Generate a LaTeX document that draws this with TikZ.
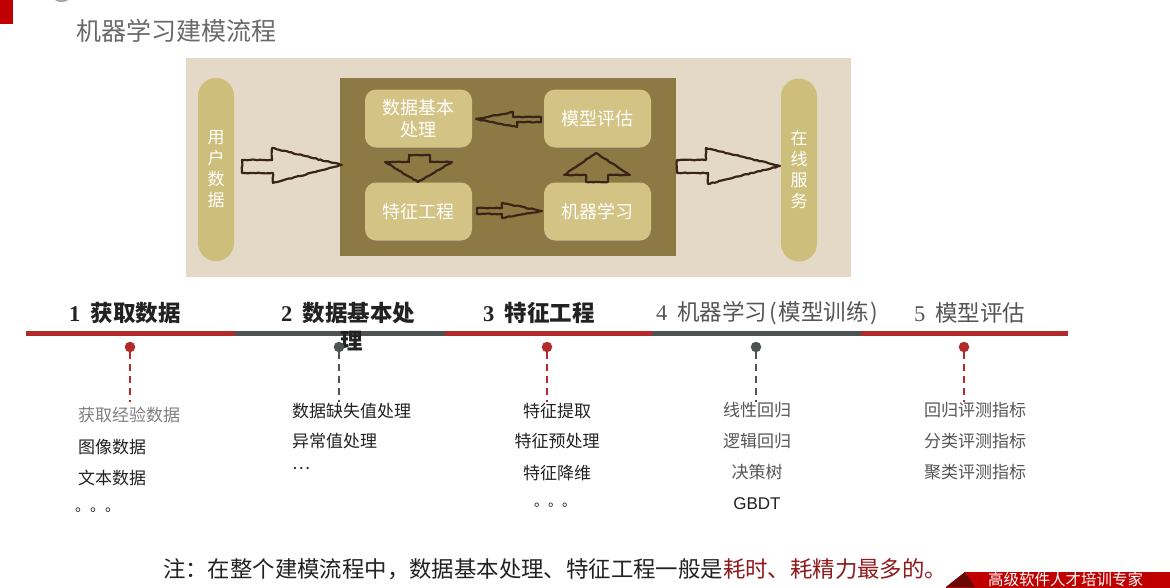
\documentclass[tikz,border=0pt]{standalone}
\usepackage{fontspec}
\setmainfont{Noto Sans CJK SC}
\newfontfamily\serifnum{Liberation Serif}
\newfontfamily\latinsans{Liberation Sans}
\usetikzlibrary{decorations.pathmorphing,shadows}
\definecolor{tlred}{HTML}{B22A2A}
\definecolor{tlgray}{HTML}{4D5352}
\definecolor{paper}{HTML}{E4D9C6}
\definecolor{olive}{HTML}{8D7944}
\definecolor{boxy}{HTML}{D3C384}
\definecolor{pill}{HTML}{CDBE7B}
\definecolor{ink}{HTML}{3A2418}
\definecolor{banner}{HTML}{C00000}
\definecolor{bannerdk}{HTML}{6A0808}
\definecolor{notered}{HTML}{8E1B1B}
\definecolor{titlegray}{HTML}{6A6A6A}
\definecolor{txt}{HTML}{222222}
\definecolor{txtgray}{HTML}{555555}
\begin{document}
\begin{tikzpicture}[x=1pt,y=-1pt,
  every node/.style={inner sep=0pt,outer sep=0pt},
  stagebox/.style={rounded corners=11pt,fill=boxy,minimum width=107pt,minimum height=58pt,
    text=white,font=\fontsize{18}{22}\selectfont,align=center,
    drop shadow={shadow xshift=0pt,shadow yshift=-2pt,opacity=0.25}},
  pillbox/.style={rounded corners=18pt,fill=pill,minimum width=36pt,minimum height=183pt,
    text=white,font=\fontsize{17}{21}\selectfont,align=center},
  handarrow/.style={draw=ink,line width=2.2pt,line join=round,
    decorate,decoration={random steps,segment length=2.5pt,amplitude=0.45pt}},
  header/.style={font=\fontsize{22.5}{26}\selectfont,text=txt},
  item/.style={font=\fontsize{17}{20}\selectfont,text=txt},
  itemgray/.style={font=\fontsize{17}{20}\selectfont,text=txtgray},
  reddot/.style={circle,fill=tlred,minimum size=10.5pt},
  graydot/.style={circle,fill=tlgray,minimum size=10.5pt},
  reddash/.style={draw=tlred,line width=2pt,dash pattern=on 7pt off 5pt},
  graydash/.style={draw=tlgray,line width=2pt,dash pattern=on 7pt off 5pt}
]
\pgfmathsetseed{7}
\useasboundingbox (0,0) rectangle (1170,587);
\fill[white] (0,0) rectangle (1170,587);

% corner decorations
\fill[banner] (0,0) rectangle (13,24);
\begin{scope}
\clip (0,0) rectangle (1170,587);
\fill[gray!70] (61.5,-2) ellipse (7.5 and 4);
\end{scope}

% title
\node[anchor=west,text=titlegray,font=\fontsize{25}{29}\selectfont] (title) at (76,31) {机器学习建模流程};

% picture panel
\node[fill=paper,minimum width=665pt,minimum height=219pt] (panel) at (518.5,167.5) {};
\node[fill=olive,minimum width=336pt,minimum height=178pt] (core) at (508,167) {};
\node[pillbox] (user) at (216,169.5) {用\\户\\数\\据};
\node[pillbox] (online) at (799,170) {在\\线\\服\\务};
\node[stagebox] (dbp) at (418.5,118.5) {数据基本\\处理};
\node[stagebox] (eval) at (597.5,118.5) {模型评估};
\node[stagebox] (feat) at (418.5,211.5) {特征工程};
\node[stagebox] (ml) at (597.5,211.5) {机器学习};

% hand-drawn block arrows
\draw[handarrow] (242,160) -- (272,160) -- (272,148) -- (342,165) -- (273,183) -- (273,173) -- (242,173) -- cycle;
\draw[handarrow] (677,160) -- (706,160) -- (706,148) -- (780,166) -- (708,184) -- (708,173) -- (677,173) -- cycle;
\draw[handarrow] (409,155) -- (430,155) -- (430,162) -- (452,162) -- (418,182) -- (385,162) -- (409,162) -- cycle;
\draw[handarrow] (586,182) -- (608,182) -- (608,175) -- (630,175) -- (596,153) -- (564,175) -- (586,175) -- cycle;
\draw[handarrow] (541,117) -- (513,117) -- (513,112) -- (476,119) -- (517,127) -- (517,122) -- (541,122) -- cycle;
\draw[handarrow] (477,208) -- (502,208) -- (502,203) -- (542,211) -- (502,218) -- (502,214) -- (477,214) -- cycle;

% timeline bar
\draw[tlred,line width=5pt] (26,333.5) -- (235,333.5);
\draw[tlgray,line width=5pt] (235,333.5) -- (445,333.5);
\draw[tlred,line width=5pt] (445,333.5) -- (652,333.5);
\draw[tlgray,line width=5pt] (652,333.5) -- (861,333.5);
\draw[tlred,line width=5pt] (861,333.5) -- (1068,333.5);

% headers
\node[header,anchor=west] (h1) at (69,313) {\textbf{{\serifnum 1} \ 获取数据}};
\node[header,anchor=west] (h2) at (281,313) {\textbf{{\serifnum 2} \ 数据基本处}};
\node[header] (h2b) at (352,341) {\textbf{理}};
\node[header,anchor=west] (h3) at (483,313) {\textbf{{\serifnum 3} \ 特征工程}};
\node[header,anchor=west,text=txtgray] (h4) at (656,313) {{\serifnum 4} \ 机器学习\hspace{2pt}(\hspace{2pt}模型训练\hspace{2pt})};
\node[header,anchor=west,text=txtgray] (h5) at (914,313) {{\serifnum 5} \ 模型评估};

% dots and dashed drops
\node[reddot] (d1) at (130,347) {};
\node[graydot] (d2) at (339,347) {};
\node[reddot] (d3) at (547,347) {};
\node[graydot] (d4) at (756,347) {};
\node[reddot] (d5) at (964,347) {};
\coordinate (e1) at (130,402);
\coordinate (e2) at (339,402);
\coordinate (e3) at (547,402);
\coordinate (e4) at (756,402);
\coordinate (e5) at (964,402);
\draw[reddash] (d1.south) -- (e1);
\draw[graydash] (d2.south) -- (e2);
\draw[reddash] (d3.south) -- (e3);
\draw[graydash] (d4.south) -- (e4);
\draw[reddash] (d5.south) -- (e5);

% column 1
\node[itemgray,anchor=west,text=gray] (a1) at (78,415) {获取经验数据};
\node[item,anchor=west] (a2) at (78,447) {图像数据};
\node[item,anchor=west] (a3) at (78,478) {文本数据};
\node[item,anchor=west,font=\fontsize{15}{17}\selectfont] (a4) at (75,510) {。。。};
% column 2
\node[item,anchor=west] (b1) at (292,411) {数据缺失值处理};
\node[item,anchor=west] (b2) at (292,441) {异常值处理};
\node[item,anchor=west] (b3) at (292,469) {…};
% column 3
\node[item] (c1) at (557,411) {特征提取};
\node[item] (c2) at (557,441) {特征预处理};
\node[item] (c3) at (557,473) {特征降维};
\node[item,font=\fontsize{14}{16}\selectfont] (c4) at (555,505) {。。。};
% column 4
\node[itemgray] (f1) at (757,410) {线性回归};
\node[itemgray] (f2) at (757,441) {逻辑回归};
\node[itemgray] (f3) at (757,472) {决策树};
\node[item,font=\latinsans\fontsize{17}{20}\selectfont] (f4) at (757,504) {GBDT};
% column 5
\node[itemgray] (g1) at (975,410) {回归评测指标};
\node[itemgray] (g2) at (975,441) {分类评测指标};
\node[itemgray] (g3) at (975,472) {聚类评测指标};

% note
\node[anchor=west,text=txt,font=\fontsize{22.4}{25}\selectfont] (note) at (163,569)
  {注：在整个建模流程中，数据基本处理、特征工程一般是\textcolor{notered}{耗时、耗精力最多的。}};

% bottom-right banner
\begin{scope}
\clip (0,0) rectangle (1170,587);
\fill[banner] (946,587) -- (965,572) -- (1175,572) -- (1175,590) -- (946,590) -- cycle;
\fill[bannerdk] (946,587) -- (965,572) -- (975,587) -- cycle;
\node[anchor=west,text=white,font=\fontsize{15.5}{17}\selectfont] (brand) at (988,579.5) {高级软件人才培训专家};
\end{scope}
\end{tikzpicture}
\end{document}
